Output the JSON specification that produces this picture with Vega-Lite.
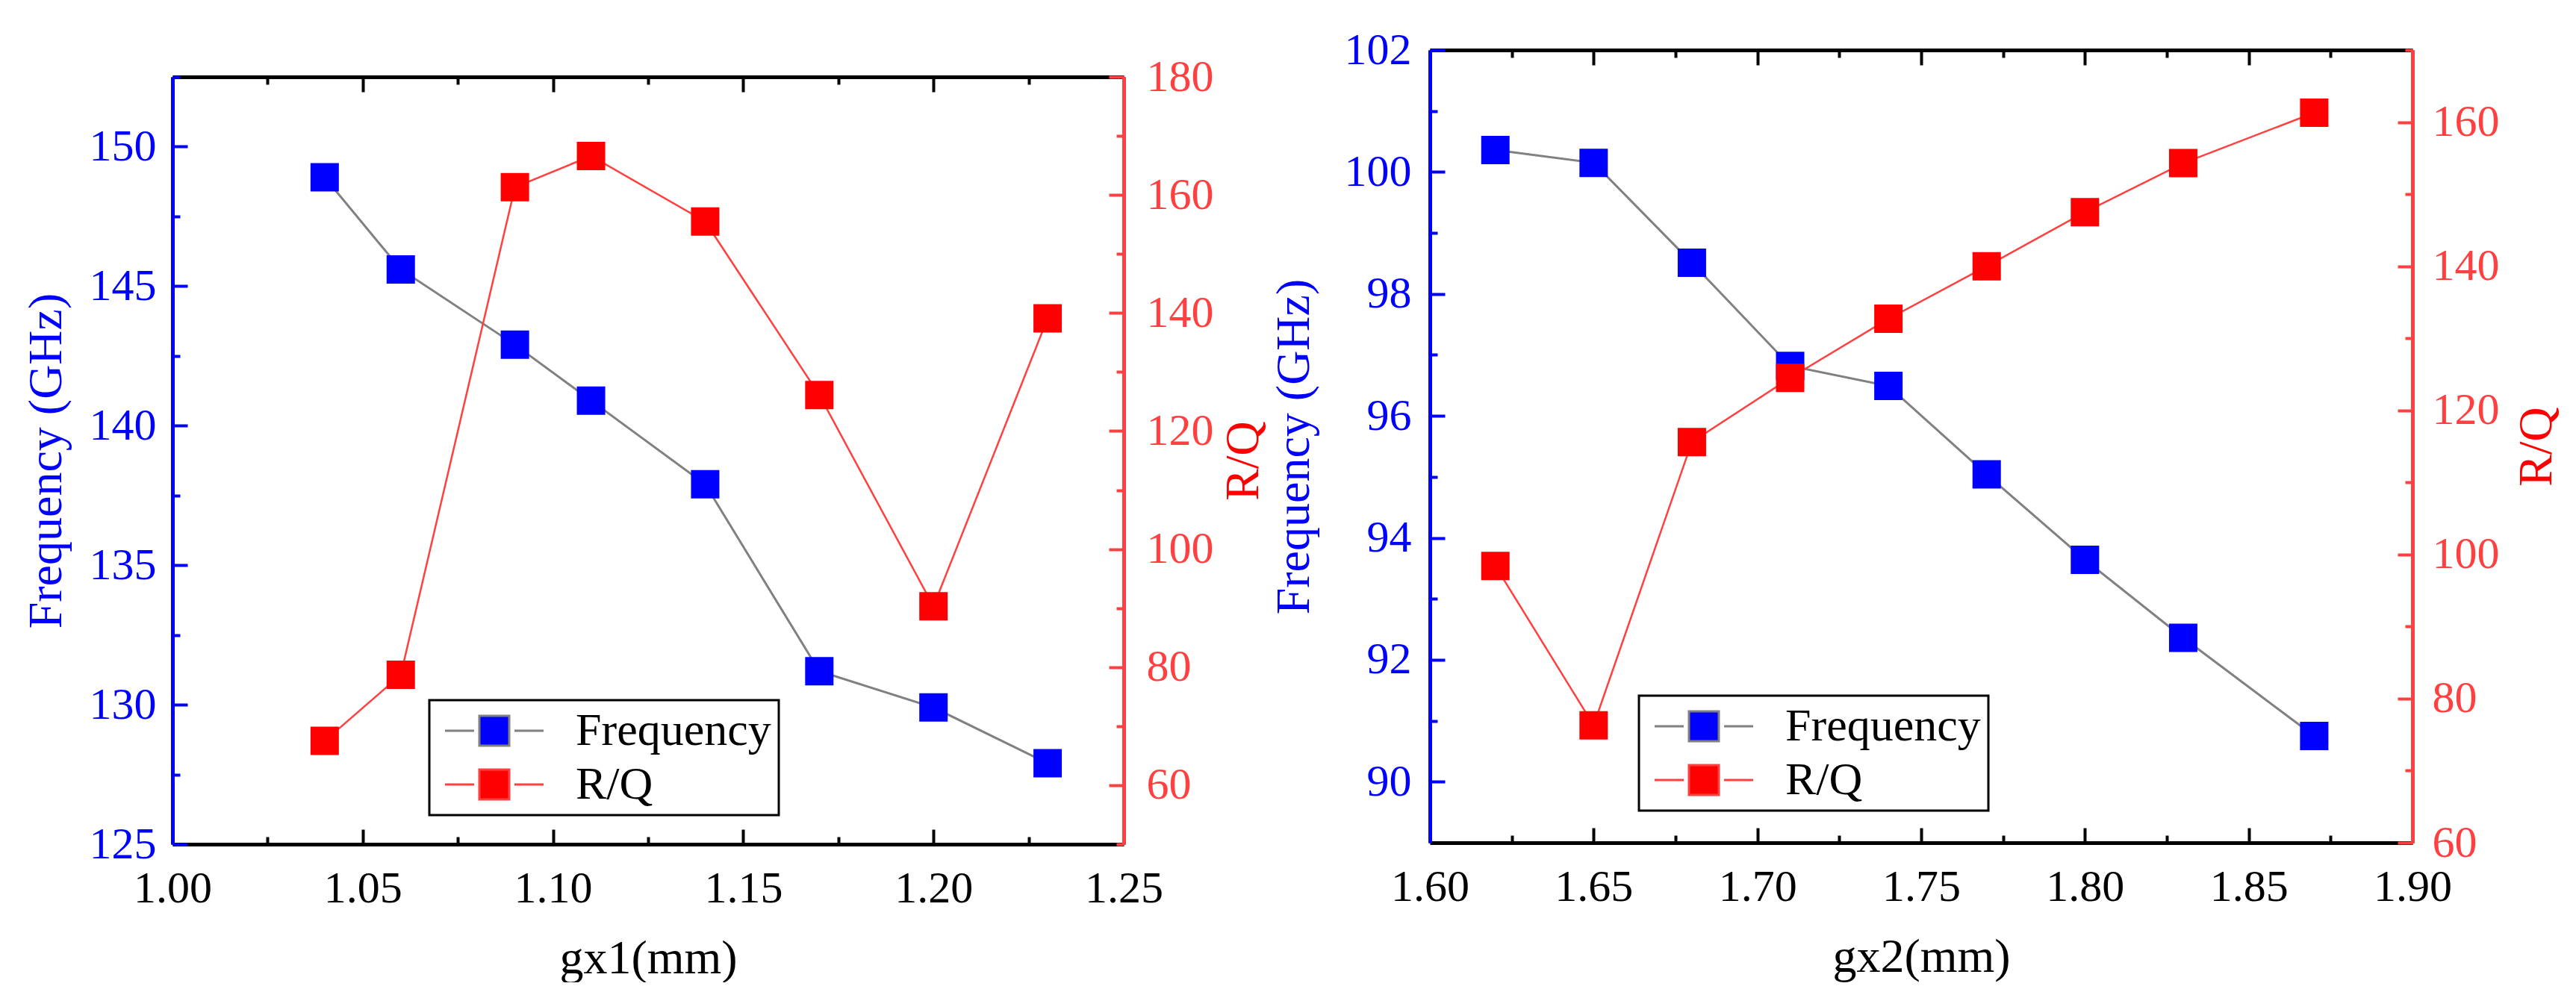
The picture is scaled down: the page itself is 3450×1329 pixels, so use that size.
{
  "$schema": "https://vega.github.io/schema/vega-lite/v6.json",
  "padding": {"left": 30, "top": 37, "right": 0, "bottom": 0},
  "background": "white",
  "datasets": {
    "g1": [
      {"gx": 1.04, "freq": 148.9, "rq": 67.5},
      {"gx": 1.06, "freq": 145.6, "rq": 78.7},
      {"gx": 1.09, "freq": 142.9, "rq": 161.3},
      {"gx": 1.11, "freq": 140.9, "rq": 166.6},
      {"gx": 1.14, "freq": 137.9, "rq": 155.5},
      {"gx": 1.17, "freq": 131.2, "rq": 126.1},
      {"gx": 1.20, "freq": 129.9, "rq": 90.3},
      {"gx": 1.23, "freq": 127.9, "rq": 139.1}
    ],
    "g2": [
      {"gx": 1.62, "freq": 100.36, "rq": 98.4},
      {"gx": 1.65, "freq": 100.15, "rq": 76.3},
      {"gx": 1.68, "freq": 98.51, "rq": 115.6},
      {"gx": 1.71, "freq": 96.82, "rq": 124.5},
      {"gx": 1.74, "freq": 96.49, "rq": 132.7},
      {"gx": 1.77, "freq": 95.04, "rq": 140.0},
      {"gx": 1.80, "freq": 93.64, "rq": 147.5},
      {"gx": 1.83, "freq": 92.36, "rq": 154.3},
      {"gx": 1.87, "freq": 90.75, "rq": 161.3}
    ]
  },
  "spacing": 4,
  "resolve": {"scale": {"fill": "independent", "stroke": "independent"}},
  "hconcat": [
    {
      "spacing": 0,
      "resolve": {"scale": {"fill": "independent", "stroke": "independent"}},
      "vconcat": [
        {
          "width": 1274,
          "height": 6,
          "data": {"values": []},
          "mark": "rule",
          "encoding": {}
        },
        {
          "width": 1274,
          "height": 1028,
          "data": {"name": "g1"},
          "resolve": {"scale": {"x": "independent", "y": "independent"}},
          "layer": [
            {
              "encoding": {
                "x": {
                  "field": "gx", "type": "quantitative",
                  "scale": {"domain": [1.0, 1.25], "nice": false, "zero": false},
                  "axis": {
                    "orient": "bottom", "title": "gx1(mm)",
                    "values": [1.0, 1.025, 1.05, 1.075, 1.1, 1.125, 1.15, 1.175, 1.2, 1.225, 1.25],
                    "tickSize": {"condition": {"test": "abs(datum.value*20-round(datum.value*20))<0.01", "value": -20}, "value": -10},
                    "labelExpr": "abs(datum.value*20-round(datum.value*20))<0.01 ? format(datum.value, '.2f') : ''",
                    "labelPadding": 50, "titlePadding": 22
                  }
                },
                "y": {
                  "field": "freq", "type": "quantitative",
                  "scale": {"domain": [125, 152.5], "nice": false, "zero": false},
                  "axis": {
                    "orient": "left", "title": "Frequency (GHz)",
                    "values": [125, 127.5, 130, 132.5, 135, 137.5, 140, 142.5, 145, 147.5, 150, 152.5],
                    "tickSize": {"condition": {"test": "abs(datum.value/5-round(datum.value/5))<0.01", "value": -20}, "value": -10},
                    "labelExpr": "abs(datum.value/5-round(datum.value/5))<0.01 ? format(datum.value, 'd') : ''",
                    "domainColor": "#0000FF", "tickColor": "#0000FF", "labelColor": "#0000FF", "titleColor": "#0000FF",
                    "labelPadding": 42, "titlePadding": 25
                  }
                }
              },
              "layer": [
                {
                  "mark": {"type": "line", "strokeWidth": 3},
                  "encoding": {
                    "stroke": {
                      "datum": "Frequency", "type": "nominal",
                      "scale": {"domain": ["Frequency", "R/Q"], "range": ["#808080", "#FF4040"]},
                      "legend": {"legendX": 344, "legendY": 835}
                    }
                  }
                },
                {
                  "mark": {"type": "point", "shape": "square", "filled": true, "size": 1444, "opacity": 1},
                  "encoding": {
                    "fill": {
                      "datum": "Frequency", "type": "nominal",
                      "scale": {"domain": ["Frequency", "R/Q"], "range": ["#0000FF", "#FF0000"]},
                      "legend": {"legendX": 344, "legendY": 835}
                    }
                  }
                }
              ]
            },
            {
              "encoding": {
                "x": {
                  "field": "gx", "type": "quantitative",
                  "scale": {"domain": [1.0, 1.25], "nice": false, "zero": false},
                  "axis": {
                    "orient": "top", "title": null, "labels": false,
                    "values": [1.0, 1.025, 1.05, 1.075, 1.1, 1.125, 1.15, 1.175, 1.2, 1.225, 1.25],
                    "tickSize": {"condition": {"test": "abs(datum.value*20-round(datum.value*20))<0.01", "value": -20}, "value": -10}
                  }
                },
                "y": {
                  "field": "rq", "type": "quantitative",
                  "scale": {"domain": [50, 180], "nice": false, "zero": false},
                  "axis": {
                    "orient": "right", "title": "R/Q", "titleAngle": 270, "titleBaseline": "top",
                    "values": [50, 60, 70, 80, 90, 100, 110, 120, 130, 140, 150, 160, 170, 180],
                    "tickSize": {"condition": {"test": "datum.value % 20 == 0", "value": -20}, "value": -10},
                    "labelExpr": "datum.value % 20 == 0 ? format(datum.value, 'd') : ''",
                    "domainColor": "#FF4040", "tickColor": "#FF4040", "labelColor": "#FF4040", "titleColor": "#FF0000",
                    "labelPadding": 50, "titlePadding": 8
                  }
                }
              },
              "layer": [
                {
                  "mark": {"type": "line", "strokeWidth": 2.5},
                  "encoding": {
                    "stroke": {
                      "datum": "R/Q", "type": "nominal",
                      "scale": {"domain": ["Frequency", "R/Q"], "range": ["#808080", "#FF4040"]},
                      "legend": {"legendX": 344, "legendY": 835}
                    }
                  }
                },
                {
                  "mark": {"type": "point", "shape": "square", "filled": true, "size": 1444, "opacity": 1},
                  "encoding": {
                    "fill": {
                      "datum": "R/Q", "type": "nominal",
                      "scale": {"domain": ["Frequency", "R/Q"], "range": ["#0000FF", "#FF0000"]},
                      "legend": {"legendX": 344, "legendY": 835}
                    }
                  }
                }
              ]
            }
          ]
        }
      ]
    },
    {
      "width": 1316,
      "height": 1062,
      "data": {"name": "g2"},
      "resolve": {"scale": {"x": "independent", "y": "independent"}},
      "layer": [
        {
          "encoding": {
            "x": {
              "field": "gx", "type": "quantitative",
              "scale": {"domain": [1.6, 1.9], "nice": false, "zero": false},
              "axis": {
                "orient": "bottom", "title": "gx2(mm)",
                "values": [1.6, 1.625, 1.65, 1.675, 1.7, 1.725, 1.75, 1.775, 1.8, 1.825, 1.85, 1.875, 1.9],
                "tickSize": {"condition": {"test": "abs(datum.value*20-round(datum.value*20))<0.01", "value": -20}, "value": -10},
                "labelExpr": "abs(datum.value*20-round(datum.value*20))<0.01 ? format(datum.value, '.2f') : ''",
                "labelPadding": 50, "titlePadding": 22
              }
            },
            "y": {
              "field": "freq", "type": "quantitative",
              "scale": {"domain": [89, 102], "nice": false, "zero": false},
              "axis": {
                "orient": "left", "title": "Frequency (GHz)",
                "values": [90, 91, 92, 93, 94, 95, 96, 97, 98, 99, 100, 101, 102],
                "tickSize": {"condition": {"test": "datum.value % 2 == 0", "value": -20}, "value": -10},
                "labelExpr": "datum.value % 2 == 0 ? format(datum.value, 'd') : ''",
                "domainColor": "#0000FF", "tickColor": "#0000FF", "labelColor": "#0000FF", "titleColor": "#0000FF",
                "labelPadding": 45, "titlePadding": 35
              }
            }
          },
          "layer": [
            {
              "mark": {"type": "line", "strokeWidth": 3},
              "encoding": {
                "stroke": {
                  "datum": "Frequency", "type": "nominal",
                  "scale": {"domain": ["Frequency", "R/Q"], "range": ["#808080", "#FF4040"]},
                  "legend": {"legendX": 280, "legendY": 865}
                }
              }
            },
            {
              "mark": {"type": "point", "shape": "square", "filled": true, "size": 1444, "opacity": 1},
              "encoding": {
                "fill": {
                  "datum": "Frequency", "type": "nominal",
                  "scale": {"domain": ["Frequency", "R/Q"], "range": ["#0000FF", "#FF0000"]},
                  "legend": {"legendX": 280, "legendY": 865}
                }
              }
            }
          ]
        },
        {
          "encoding": {
            "x": {
              "field": "gx", "type": "quantitative",
              "scale": {"domain": [1.6, 1.9], "nice": false, "zero": false},
              "axis": {
                "orient": "top", "title": null, "labels": false,
                "values": [1.6, 1.625, 1.65, 1.675, 1.7, 1.725, 1.75, 1.775, 1.8, 1.825, 1.85, 1.875, 1.9],
                "tickSize": {"condition": {"test": "abs(datum.value*20-round(datum.value*20))<0.01", "value": -20}, "value": -10}
              }
            },
            "y": {
              "field": "rq", "type": "quantitative",
              "scale": {"domain": [60, 170], "nice": false, "zero": false},
              "axis": {
                "orient": "right", "title": "R/Q", "titleAngle": 270, "titleBaseline": "top",
                "values": [60, 70, 80, 90, 100, 110, 120, 130, 140, 150, 160, 170],
                "tickSize": {"condition": {"test": "datum.value % 20 == 0", "value": -20}, "value": -10},
                "labelExpr": "datum.value % 20 == 0 ? format(datum.value, 'd') : ''",
                "domainColor": "#FF4040", "tickColor": "#FF4040", "labelColor": "#FF4040", "titleColor": "#FF0000",
                "labelPadding": 46, "titlePadding": 18
              }
            }
          },
          "layer": [
            {
              "mark": {"type": "line", "strokeWidth": 2.5},
              "encoding": {
                "stroke": {
                  "datum": "R/Q", "type": "nominal",
                  "scale": {"domain": ["Frequency", "R/Q"], "range": ["#808080", "#FF4040"]},
                  "legend": {"legendX": 280, "legendY": 865}
                }
              }
            },
            {
              "mark": {"type": "point", "shape": "square", "filled": true, "size": 1444, "opacity": 1},
              "encoding": {
                "fill": {
                  "datum": "R/Q", "type": "nominal",
                  "scale": {"domain": ["Frequency", "R/Q"], "range": ["#0000FF", "#FF0000"]},
                  "legend": {"legendX": 280, "legendY": 865}
                }
              }
            }
          ]
        }
      ]
    }
  ],
  "config": {
    "font": "Liberation Serif",
    "view": {"stroke": null},
    "axis": {
      "grid": false,
      "labelFont": "Liberation Serif",
      "titleFont": "Liberation Serif",
      "labelFontSize": 60,
      "titleFontSize": 64,
      "titleFontWeight": "normal",
      "labelColor": "black",
      "titleColor": "black",
      "domainColor": "black",
      "tickColor": "black",
      "domainWidth": 5,
      "tickWidth": 4,
      "labelFlush": false,
      "labelOverlap": false
    },
    "legend": {
      "orient": "none",
      "direction": "vertical",
      "title": null,
      "symbolType": "M-1,0H0.95M3.65,0H5.6M1.3,-1H3.3V1H1.3Z",
      "symbolSize": 1600,
      "symbolStrokeWidth": 3,
      "labelFont": "Liberation Serif",
      "labelFontSize": 62,
      "labelColor": "black",
      "labelOffset": 124,
      "labelLimit": 1000,
      "padding": 10,
      "rowPadding": 10,
      "strokeColor": "black",
      "strokeWidth": 3,
      "fillColor": "white"
    }
  }
}
